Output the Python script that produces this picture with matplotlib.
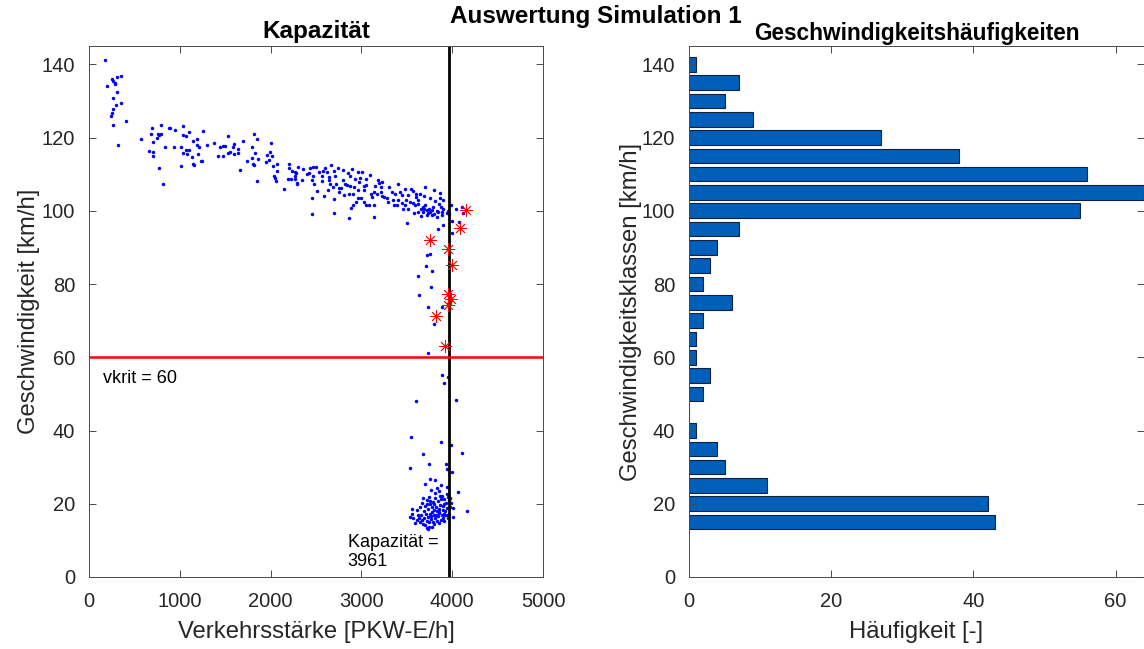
import numpy as np
import matplotlib
matplotlib.use("Agg")
import matplotlib.pyplot as plt

plt.rcParams['font.family'] = ['Liberation Sans', 'DejaVu Sans']

# ---- Kapazität: measured (flow, speed) pairs -------------------------------
flow = [
    173,
    250, 305, 352, 268, 283, 198, 290,
    305, 261, 352, 294, 261,
    253, 246, 404, 261, 790, 881, 690, 1039, 888,
    319, 573, 757, 775, 745, 683, 708, 790, 947, 1031, 1068, 936, 1193, 1259,
    1186, 1380, 1527, 1479, 1498, 1814, 1850, 1300, 1100, 1600, 1700, 2000, 1150,
    837, 661, 708, 708, 1013, 1068, 1105, 1039, 1083, 1131, 1149, 1211, 1200,
    1237, 1248, 1443, 1583, 1637, 1417, 1472, 1534, 1553, 1597, 1637, 1792,
    1828, 1792, 1743, 1810, 1861, 1821, 1997, 1957, 2019, 1979, 1949, 2067, 2203,
    775, 1156, 1010, 1666, 1847, 2030, 2067, 2041, 2048, 2059, 2199, 2236, 2269,
    2188, 2221, 2269, 2287, 2276, 2266, 2353, 2342, 2434, 2471, 2497, 2426, 2471,
    2452, 2533, 2563, 2581, 2618, 2563, 2643, 2665, 2739, 2643, 2709, 2801, 2856,
    2874, 2930, 2966, 3003, 2985, 2977, 3047, 3186, 3194, 3230, 2300, 2400, 2700,
    2900, 3100, 2600, 2800,
    815, 2287, 2478, 2508, 2651, 2720, 2629, 2592, 2684, 2753, 2775, 2757, 2805,
    2819, 2845, 2878, 2922, 2867, 2911, 2966, 3029, 3029, 2966, 2996, 3106, 3113,
    3139, 3216, 3168, 3211, 3222, 3252, 3278, 3333, 3370, 3425, 3443, 3407, 3517,
    3572, 3598, 3645, 3693, 3598, 3866, 3866, 3491, 3811, 2452, 2150, 3050, 3300,
    3350, 3550, 3750, 3700, 3480, 3150, 3400, 2700, 3620, 3800, 3900,
    2452, 2940, 2911, 2885, 2863, 2694, 3032, 3051, 3084, 3139, 3142, 3296, 3362,
    3461, 3388, 3535, 3480, 3517, 3572, 3590, 3620, 3620, 3656, 3693, 3682, 3719,
    3748, 3737, 3774, 3792, 3829, 3847, 3873, 3884, 3891, 3829, 3774, 3719, 3939,
    3965, 4038, 4104, 4122, 4155, 3800, 3850, 3700, 3660, 3900, 3750, 3680, 3950,
    3990, 3580, 3450,
    3902, 3847, 3499, 4001, 3994, 4082, 4070,
    3719, 3756, 3752, 3954,
    3708, 3781, 3998,
    3620, 3763,
    3634, 3730, 3884, 3950, 3983, 3954,
    3803, 3822,
    3924,
    3730,
    3884, 3910, 3957,
    3598, 4045,
    3550,
    3873, 3983, 4104, 3682,
    3744, 3932, 3539, 3946, 3994,
    3756, 3814, 3939, 4067, 3766, 3829, 3855, 3811, 3939, 3700, 3880,
    3682, 3913, 3976, 3719, 3756, 3554, 3616, 4166, 3976, 4005, 3700, 3730, 3760,
    3790, 3800, 3820, 3840, 3850, 3870, 3880, 3900, 3910, 3930, 3945, 3960, 3690,
    3740, 3780, 3810, 3860, 3890, 3920, 3670, 3640, 3775, 3835, 3865, 3955, 3720,
    3805, 3895, 3985,
    3539, 3572, 3609, 3645, 3675, 3748, 3781, 4012, 3560, 3590, 3620, 3630, 3655,
    3665, 3690, 3700, 3710, 3720, 3735, 3745, 3755, 3765, 3770, 3785, 3795, 3805,
    3815, 3825, 3830, 3845, 3855, 3860, 3875, 3885, 3895, 3905, 3915, 3925, 3940,
    3950, 3965, 3720, 3737,
]
speed = [
    141.1,
    136.1, 136.4, 136.7, 135.5, 134.7, 134.1, 135.0,
    132.5, 130.8, 129.3, 128.8, 127.7,
    126.6, 125.8, 124.4, 123.4, 123.4, 122.6, 122.5, 123.2, 122.7,
    117.9, 119.5, 121.1, 120.6, 120.0, 121.1, 118.8, 121.1, 122.0, 120.6, 120.4, 117.5, 119.7, 121.8,
    118.1, 118.6, 120.4, 117.8, 117.8, 120.9, 119.5, 118.0, 121.5, 118.2, 119.0, 118.5, 119.0,
    117.4, 116.4, 116.1, 115.0, 117.4, 116.7, 116.7, 115.8, 115.4, 114.7, 112.9, 117.3, 115.5,
    113.7, 113.5, 117.3, 117.4, 116.9, 115.0, 114.9, 115.8, 116.0, 115.6, 115.8, 117.4,
    115.9, 114.4, 113.5, 112.9, 114.2, 112.6, 116.1, 115.2, 115.0, 114.0, 113.3, 112.8, 112.7,
    111.7, 112.4, 112.2, 111.1, 108.2, 112.2, 110.8, 109.6, 109.0, 108.1, 111.8, 110.8, 110.5,
    108.8, 108.8, 109.4, 107.6, 110.2, 108.8, 111.3, 108.4, 111.8, 112.0, 112.0, 110.2, 109.4,
    108.5, 110.6, 109.4, 110.8, 110.5, 108.1, 109.3, 112.4, 111.8, 108.4, 109.5, 108.4, 110.2,
    109.5, 108.8, 110.6, 110.5, 109.0, 107.9, 108.8, 108.4, 107.6, 107.9, 112.0, 110.0, 110.8,
    111.5, 109.8, 111.6, 111.2,
    107.3, 107.4, 107.2, 105.3, 107.4, 107.4, 105.8, 104.1, 106.5, 106.3, 106.3, 105.2, 104.4,
    107.3, 107.0, 106.7, 106.5, 104.5, 104.5, 105.6, 106.8, 105.6, 103.4, 103.4, 104.7, 103.8,
    105.2, 106.4, 104.5, 105.2, 104.0, 103.8, 103.6, 105.2, 104.7, 105.0, 104.3, 102.9, 104.3,
    105.4, 104.7, 104.7, 104.1, 103.8, 104.9, 103.6, 102.9, 102.7, 103.6, 106.0, 107.0, 106.5,
    103.0, 106.0, 103.5, 106.5, 106.0, 106.8, 107.2, 103.2, 103.0, 105.8, 103.0,
    99.1, 102.4, 101.5, 100.7, 98.1, 99.5, 102.4, 101.5, 101.7, 101.5, 98.2, 102.4, 101.5,
    100.6, 101.5, 102.4, 101.5, 100.6, 102.0, 101.5, 101.8, 99.7, 100.4, 100.6, 99.7, 100.2,
    100.6, 99.4, 100.2, 101.1, 100.0, 99.7, 101.1, 99.7, 98.8, 98.3, 98.8, 98.8, 99.3,
    99.1, 100.4, 101.1, 99.4, 100.1, 99.0, 101.8, 101.5, 98.5, 100.5, 99.8, 101.0, 100.0,
    101.5, 99.5, 102.0,
    96.1, 94.9, 96.7, 97.2, 93.8, 95.4, 97.0,
    88.0, 88.2, 91.9, 89.6,
    84.9, 83.6, 85.2,
    82.2, 79.2,
    77.1, 73.6, 73.8, 77.4, 75.8, 74.2,
    69.2, 71.2,
    63.0,
    61.1,
    55.2, 53.0, 54.7,
    48.0, 48.3,
    38.1,
    36.8, 36.1, 33.8, 33.5,
    30.8, 30.8, 29.7, 29.5, 28.7,
    26.7, 26.5, 24.5, 23.2, 23.7, 24.2, 23.6, 23.0, 22.8, 25.5, 25.0,
    21.6, 21.3, 21.6, 21.0, 20.7, 18.7, 18.3, 18.1, 19.0, 18.9, 19.5, 18.5, 19.8,
    20.5, 18.2, 19.2, 20.8, 18.6, 19.6, 21.2, 18.4, 19.9, 20.3, 18.8, 20.9, 17.9,
    21.8, 17.8, 21.5, 17.7, 22.0, 17.9, 20.2, 19.2, 19.0, 18.0, 22.2, 21.9, 20.0,
    20.0, 19.3, 20.2,
    16.5, 16.0, 15.6, 15.1, 14.5, 13.7, 13.6, 16.5, 17.2, 14.8, 17.0, 16.2, 16.8,
    15.5, 16.0, 14.2, 17.1, 15.2, 16.4, 14.9, 17.3, 15.8, 16.7, 15.0, 16.9, 14.6,
    16.1, 17.0, 15.3, 16.6, 14.8, 17.4, 15.7, 16.9, 16.2, 17.2, 15.4, 16.8, 17.0,
    16.0, 17.3, 13.3, 13.0,
]

# highlighted measurements (asterisks)
star_flow = [4155, 4082, 3752, 3954, 3998, 3950, 3983, 3954, 3822, 3924]
star_speed = [100.1, 95.4, 91.9, 89.6, 85.2, 77.4, 75.8, 74.2, 71.2, 63.0]

kapazitaet = 3961
vkrit = 60

# ---- Geschwindigkeitshäufigkeiten ------------------------------------------
klassen = [15, 20, 25, 30, 35, 40, 45, 50, 55, 60, 65, 70, 75, 80,
           85, 90, 95, 100, 105, 110, 115, 120, 125, 130, 135, 140]
haeufigkeit = [43, 42, 11, 5, 4, 1, 0, 2, 3, 1, 1, 2, 6, 2,
               3, 4, 7, 55, 64, 56, 38, 27, 9, 5, 7, 1]

# ---- figure ------------------------------------------------------------------
W, H = 1144, 649
fig = plt.figure(figsize=(W / 100, H / 100), dpi=100)

axc = '#262626'
tick_fs = 14.5
label_fs = 17.2


def style(ax):
    for s in ax.spines.values():
        s.set_color('#4a4a4a')
        s.set_linewidth(0.7)
    ax.tick_params(direction='in', length=5, width=0.7, color='#4a4a4a',
                   labelsize=tick_fs, labelcolor=axc, top=True, right=True)
    ax.tick_params(axis='x', pad=11)
    ax.tick_params(axis='y', pad=10)


def px_axes(x0, x1, y0, y1):
    return fig.add_axes([x0 / W, 1 - y1 / H, (x1 - x0) / W, (y1 - y0) / H])


# left: capacity scatter
ax1 = px_axes(89, 543, 46, 577)
ax1.plot(flow, speed, linestyle='none', marker='o', markersize=2.5,
         color='#0000ff', markeredgewidth=0, zorder=2)
ax1.axvline(kapazitaet, color='black', linewidth=2, zorder=2.5)
ax1.axhline(vkrit, color='#ff0000', linewidth=1.8, zorder=2.5)
ax1.plot(star_flow, star_speed, linestyle='none', marker=(8, 2, 0),
         markersize=9, color='#ff0000', markeredgewidth=0.6, zorder=3)
ax1.text(154, 54.3, 'vkrit = %d' % vkrit, fontsize=13, color='black',
         va='center', ha='left')
ax1.text(2850, 6.8, 'Kapazität =\n%d' % kapazitaet, fontsize=13, color='black',
         va='center', ha='left', linespacing=1.1)
ax1.set_xlim(0, 5000)
ax1.set_ylim(0, 145)
ax1.set_xticks([0, 1000, 2000, 3000, 4000, 5000])
ax1.set_yticks(np.arange(0, 141, 20))
ax1.set_xlabel('Verkehrsstärke [PKW-E/h]', fontsize=label_fs, color=axc, labelpad=7)
ax1.set_ylabel('Geschwindigkeit [km/h]', fontsize=label_fs, color=axc, labelpad=1)
ax1.set_title('Kapazität', fontsize=17.5, fontweight='bold', color='black', pad=6)
style(ax1)

# right: speed class histogram
ax2 = px_axes(689, 1144, 46, 577)
ax2.barh(klassen, haeufigkeit, height=4, color='#005fb8', edgecolor='#102040',
         linewidth=0.8)
ax2.set_xlim(0, 64)
ax2.set_ylim(0, 145)
ax2.set_xticks([0, 20, 40, 60])
ax2.set_yticks(np.arange(0, 141, 20))
ax2.set_xlabel('Häufigkeit [-]', fontsize=label_fs, color=axc, labelpad=7)
ax2.set_ylabel('Geschwindigkeitsklassen [km/h]', fontsize=label_fs, color=axc,
               labelpad=0)
ax2.set_title('Geschwindigkeitshäufigkeiten', fontsize=16.3, fontweight='bold',
              color='black', pad=4)
style(ax2)

fig.text(596 / W, 1 - 17 / H, 'Auswertung Simulation 1', fontsize=17.5,
         fontweight='bold', ha='center', va='center', color='black')

fig.savefig('out.png', dpi=100)
